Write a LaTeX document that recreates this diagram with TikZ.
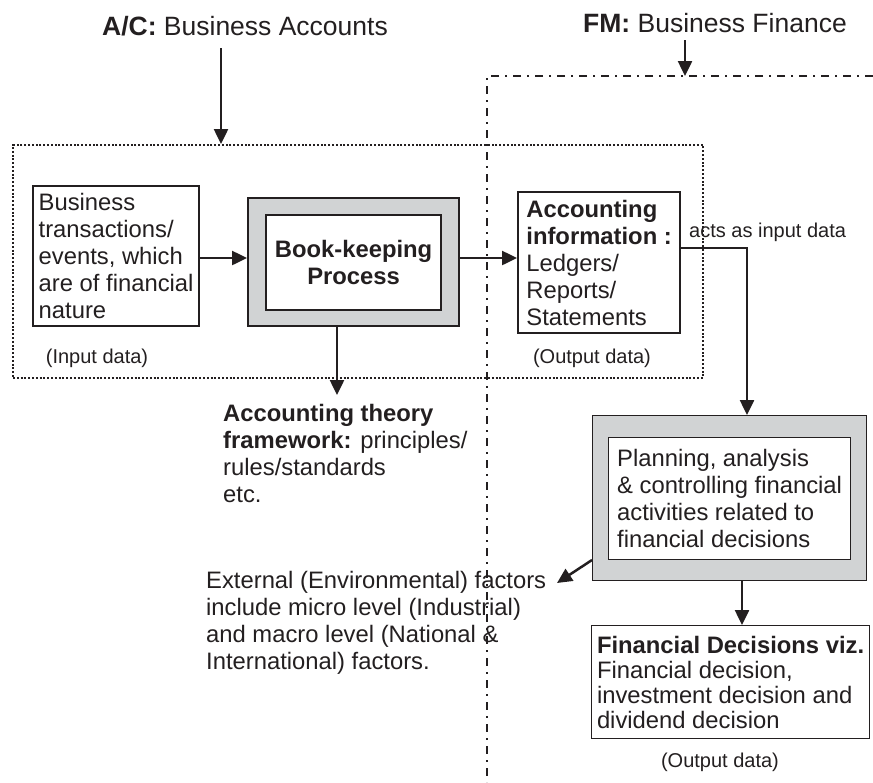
\documentclass[tikz,border=0pt]{standalone}
\usepackage{fontspec}
\setmainfont{Liberation Sans}
\usetikzlibrary{arrows.meta}
\definecolor{ink}{HTML}{231F20}
\definecolor{shade}{HTML}{D1D3D4}
\begin{document}
\begin{tikzpicture}[x=1pt,y=-1pt,
  every node/.style={text=ink, inner sep=0pt},
  body/.style={font=\fontsize{23.8}{27}\selectfont},
  small/.style={font=\fontsize{20}{24}\selectfont},
  big/.style={font=\fontsize{26.5}{30}\selectfont},
  arr/.style={draw=ink, line width=2.5pt, -{Triangle[length=15pt,width=14pt]}},
  plainbox/.style={draw=ink, line width=2.2pt, fill=white, body, align=left},
  thinbox/.style={draw=ink, line width=1.2pt, fill=white, align=left},
  shadebox/.style={draw=ink, fill=shade},
  dotbox/.style={draw=ink, line width=2pt, dash pattern=on 2pt off 1.8pt},
  dashdot/.style={draw=ink, line width=2.2pt, dash pattern=on 8pt off 6pt on 2pt off 6pt}
]
\useasboundingbox (0,0) rectangle (873,782);

% titles
\node[big, anchor=base] (ac) at (245,35) {\textbf{A/C:} Business Accounts};
\node[big, anchor=base] (fm) at (715,32) {\textbf{FM:} Business Finance};

% accounts region (dotted)
\node[dotbox, anchor=north west, minimum width=690, minimum height=233] (acbox) at (12,144) {};

% finance region (dash-dot)
\coordinate (fmright) at (873,76);
\coordinate (fmcorner) at (487,76);
\coordinate (fmbottom) at (487,782);
\draw[dashdot] (fmright) -- (fmcorner) -- (fmbottom);

% title arrows
\coordinate (acA) at (221,48);
\draw[arr] (acA) -- (acA |- acbox.north);
\coordinate (fmA) at (685,40);
\draw[arr] (fmA) -- (fmA |- fmcorner);

% business transactions
\node[plainbox, anchor=north west, minimum width=166, minimum height=140] (biz) at (32,185)
  {Business\\transactions/\\events, which\\are of financial\\nature};

% book-keeping
\node[shadebox, line width=2.2pt, anchor=north west, minimum width=211, minimum height=128] (bkout) at (247,197) {};
\node[plainbox, align=center, minimum width=175, minimum height=95,
  font=\bfseries\fontsize{23.8}{27}\selectfont] (bk) at (bkout.center) {Book-keeping\\Process};

% accounting information
\node[plainbox, anchor=north west, minimum width=162, minimum height=141] (acinfo) at (517,191)
  {\textbf{Accounting}\\\textbf{information :}\\Ledgers/\\Reports/\\Statements};

\coordinate (r1) at (0,258);
\draw[arr] (biz.east |- r1) -- (bkout.west |- r1);
\draw[arr] (bkout.east |- r1) -- (acinfo.west |- r1);

\node[small, anchor=west] (acts) at (689,232) {acts as input data};

% labels in the dotted box
\node[small] (inlab) at (97,358) {(Input data)};
\node[small] (outlab) at (592,358) {(Output data)};

% accounting theory
\node[body, align=left, anchor=north west] (theory) at (223,404)
  {\textbf{Accounting theory}\\\textbf{framework:} principles/\\rules/standards\\etc.};
\coordinate (r5) at (337,0);
\coordinate (thtip) at (337,395);
\draw[arr] (bkout.south -| r5) -- (thtip);

% planning box
\node[shadebox, line width=1.4pt, anchor=north west, minimum width=274, minimum height=165] (plout) at (592,415) {};
\node[thinbox, body, anchor=north west, minimum width=242, minimum height=122] (plan) at (608,437)
  {Planning, analysis\\\& controlling financial\\activities related to\\financial decisions};

\coordinate (r2) at (747,248);
\draw[arr] (acinfo.east |- r2) -| (r2 |- plout.north);

% financial decisions
\node[thinbox, font=\fontsize{23.8}{25}\selectfont, anchor=north west, minimum width=278, minimum height=113] (fd) at (591,625)
  {\textbf{Financial Decisions viz.}\\Financial decision,\\investment decision and\\dividend decision};
\coordinate (r3) at (742,0);
\draw[arr] (plout.south -| r3) -- (fd.north -| r3);
\node[small] (outlab2) at (720,762) {(Output data)};

% external factors
\node[body, align=left, anchor=north west] (ext) at (206,571)
  {External (Environmental) factors\\include micro level (Industrial)\\and macro level (National \&\\International) factors.};
\coordinate (r4) at (0,560);
\coordinate (exttip) at (557,583);
\draw[arr] (plout.west |- r4) -- (exttip);
\end{tikzpicture}
\end{document}
